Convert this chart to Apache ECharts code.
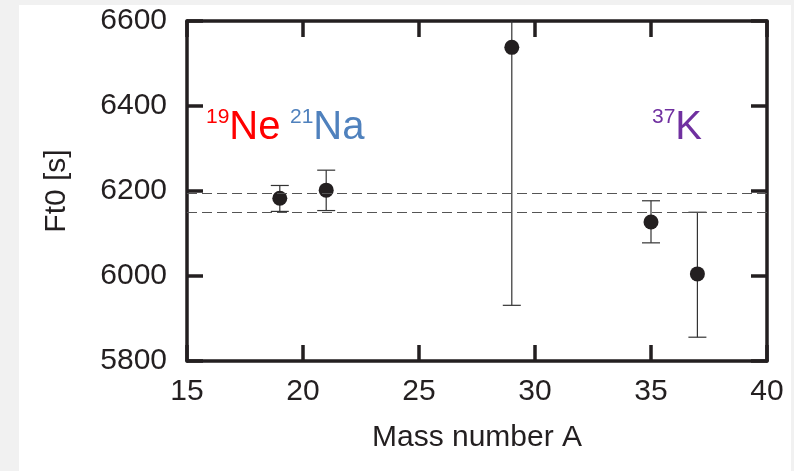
<!DOCTYPE html>
<html>
<head>
<meta charset="utf-8">
<script src="https://cdn.jsdelivr.net/npm/echarts@6/dist/echarts.min.js"></script>
<style>
html,body{margin:0;padding:0;background:#f1f1f1;}
#chart{width:794px;height:471px;}
</style>
</head>
<body>
<div id="chart"></div>
<script>
// ---- data ----
const massNumbers = [19, 21, 29, 35, 37];
const ft0Values   = [6183, 6202, 6538, 6127, 6005];
const errLow      = [6152, 6154, 5931, 6078, 5856];
const errHigh     = [6213, 6249, 7145, 6177, 6150];
const bandLines   = [6194, 6151];
const xTicks = { min: 15, max: 40, interval: 5 };
const yTicks = { min: 5800, max: 6600, interval: 200 };

const FONT = 'Liberation Sans, Arial, Helvetica, sans-serif';
const INK = '#231f20';

const chart = echarts.init(document.getElementById('chart'), null, { renderer: 'canvas' });

const points = massNumbers.map((x, i) => [x, ft0Values[i]]);
const bars = massNumbers.map((x, i) => [x, errLow[i], errHigh[i]]);

function axisCommon(showLabel) {
  return {
    axisLine: { show: true, onZero: false, lineStyle: { color: INK, width: 3.5 } },
    axisTick: { show: true, inside: true, length: 16, lineStyle: { color: INK, width: 3.5 } },
    axisLabel: { show: showLabel, color: INK, fontSize: 30, fontFamily: FONT },
    splitLine: { show: false }
  };
}

function isotope(sup, main, color) {
  return {
    text: '{s|' + sup + '}{b|' + main + '}',
    rich: {
      s: { fontSize: 21, fontFamily: FONT, fill: color, verticalAlign: 'top', lineHeight: 42 },
      b: { fontSize: 40, fontFamily: FONT, fill: color, lineHeight: 42 }
    }
  };
}

const option = {
  backgroundColor: 'transparent',
  animation: false,
  graphic: [
    { type: 'rect', z: -10, silent: true, shape: { x: 19, y: 5, width: 772, height: 466 }, style: { fill: '#ffffff' } },
    { type: 'text', left: 206, top: 107, z: 10, style: isotope('19', 'Ne', '#ff0000') },
    { type: 'text', left: 290, top: 107, z: 10, style: isotope('21', 'Na', '#4f81bd') },
    { type: 'text', left: 652, top: 107, z: 10, style: isotope('37', 'K', '#7030a0') }
  ],
  grid: { left: 187, right: 27, top: 21, bottom: 110, containLabel: false },
  xAxis: [
    Object.assign({
      type: 'value', position: 'bottom', min: xTicks.min, max: xTicks.max, interval: xTicks.interval,
      name: 'Mass number A', nameLocation: 'middle', nameGap: 62,
      nameTextStyle: { color: INK, fontSize: 30, fontFamily: FONT }
    }, axisCommon(true), { axisLabel: { show: true, color: INK, fontSize: 30, fontFamily: FONT, margin: 16,
      formatter: v => String(v) } }),
    Object.assign({
      type: 'value', position: 'top', min: xTicks.min, max: xTicks.max, interval: xTicks.interval
    }, axisCommon(false))
  ],
  yAxis: [
    Object.assign({
      type: 'value', position: 'left', min: yTicks.min, max: yTicks.max, interval: yTicks.interval,
      name: 'Ft0 [s]', nameLocation: 'middle', nameGap: 115, nameRotate: 90,
      nameTextStyle: { color: INK, fontSize: 30, fontFamily: FONT }
    }, axisCommon(true), { axisLabel: { show: true, color: INK, fontSize: 30, fontFamily: FONT, margin: 20,
      formatter: v => String(v) } }),
    Object.assign({
      type: 'value', position: 'right', min: yTicks.min, max: yTicks.max, interval: yTicks.interval
    }, axisCommon(false))
  ],
  series: [
    {
      type: 'custom',
      xAxisIndex: 0, yAxisIndex: 0,
      clip: true,
      data: bars,
      z: 3,
      renderItem: function (params, api) {
        const x = api.value(0);
        const lo = api.coord([x, api.value(1)]);
        const hi = api.coord([x, api.value(2)]);
        const hw = 9;
        const st = { stroke: '#333333', lineWidth: 1.2 };
        return {
          type: 'group',
          children: [
            { type: 'line', shape: { x1: lo[0], y1: lo[1], x2: hi[0], y2: hi[1] }, style: st },
            { type: 'line', shape: { x1: lo[0] - hw, y1: lo[1], x2: lo[0] + hw, y2: lo[1] }, style: st },
            { type: 'line', shape: { x1: hi[0] - hw, y1: hi[1], x2: hi[0] + hw, y2: hi[1] }, style: st }
          ]
        };
      }
    },
    {
      type: 'scatter',
      xAxisIndex: 0, yAxisIndex: 0,
      data: points,
      symbol: 'circle',
      symbolSize: 15,
      z: 4,
      itemStyle: { color: INK, opacity: 1 },
      markLine: {
        silent: true,
        symbol: 'none',
        label: { show: false },
        lineStyle: { color: '#555555', width: 1, type: [10, 5] },
        data: bandLines.map(v => ({ yAxis: v }))
      }
    }
  ]
};
chart.setOption(option);
</script>
</body>
</html>
